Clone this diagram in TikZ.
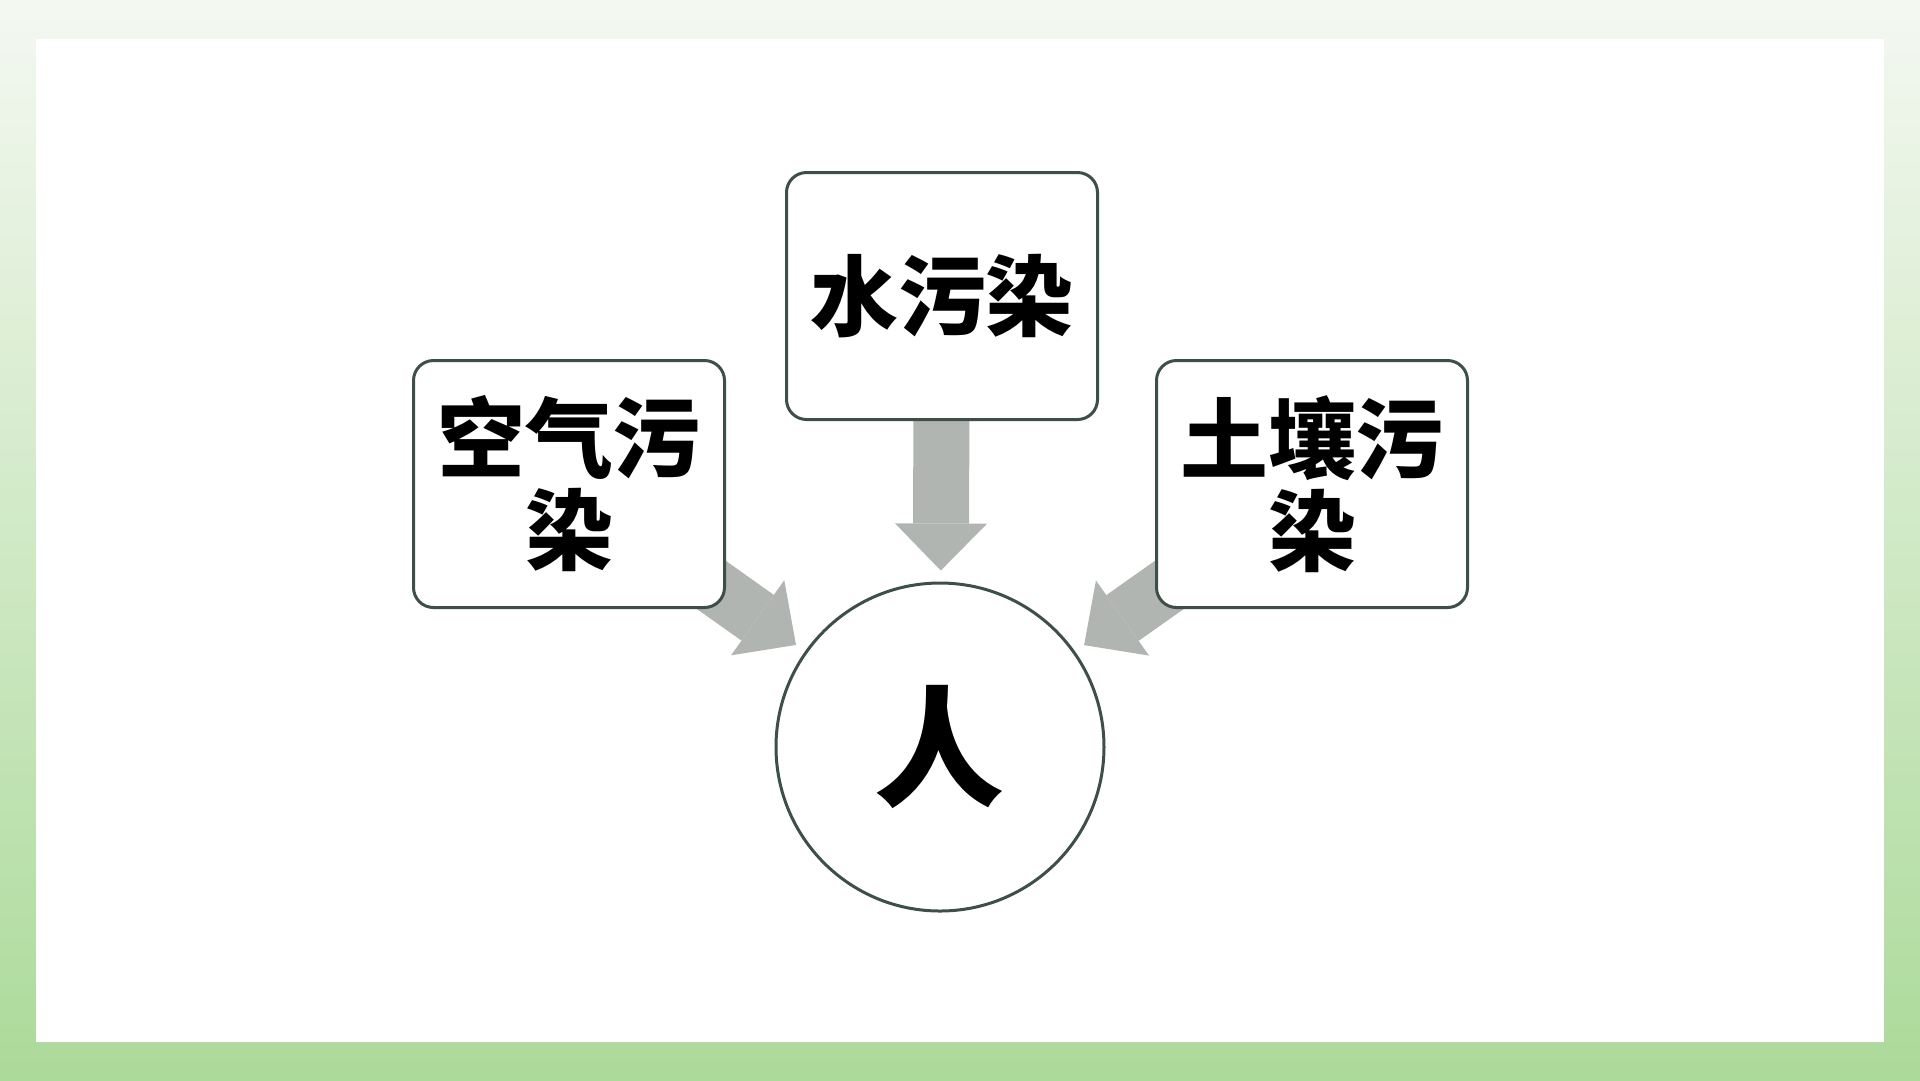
\documentclass[tikz,border=0pt]{standalone}
\usepackage{fontspec}
\newfontfamily\cjk{Noto Sans CJK SC}
\usetikzlibrary{arrows.meta,backgrounds}

\definecolor{edgegreen}{RGB}{62,78,72}
\definecolor{arrowgray}{RGB}{176,181,177}
\definecolor{bgtop}{RGB}{244,248,241}
\definecolor{bgbottom}{RGB}{172,218,154}

\tikzset{
  source/.style={draw=edgegreen, line width=0.3mm, fill=white,
    rounded corners=2mm, minimum width=31.1mm, minimum height=24.7mm,
    align=center, inner sep=0pt,
    font=\cjk\bfseries\fontsize{25}{26.2}\selectfont},
  target/.style={circle, draw=edgegreen, line width=0.3mm, fill=white,
    minimum size=32.8mm, inner sep=0pt,
    font=\cjk\bfseries\fontsize{37}{38}\selectfont},
  flow/.style={arrowgray, line width=5.6mm, shorten >=1.1mm,
    -{Triangle[length=4.7mm, width=9.2mm, line width=0pt]}}
}

\begin{document}
\begin{tikzpicture}[x=0.1mm, y=-0.1mm]

  % --- Fondo ---
  \begin{scope}[on background layer]
    \shade[top color=bgtop, bottom color=bgbottom] (0,0) rectangle (1920,1080);
    \fill[white] (36,39) rectangle (1884,1042);
  \end{scope}

  % --- Fuentes de contaminacion ---
  \node[source] (water) at (942,296) {水污染};
  \node[source] (air)   at (569,484) {空气污\\染};
  \node[source] (soil)  at (1312,484) {土壤污\\染};

  % --- Centro ---
  \node[target] (person) at (940,747) {人};

  % --- Flechas hacia el centro ---
  \begin{scope}[on background layer]
    \draw[flow] (water) -- (person);
    \draw[flow] (air.center) -- (person);
    \draw[flow] (soil.center) -- (person);
  \end{scope}

\end{tikzpicture}
\end{document}
